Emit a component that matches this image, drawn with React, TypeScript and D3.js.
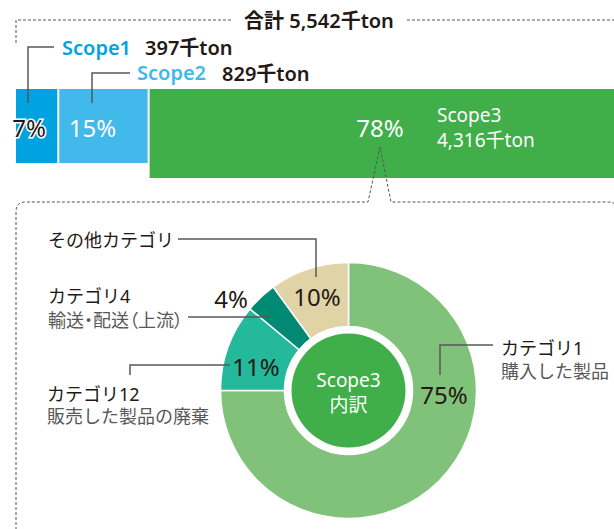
import React from 'react';
import * as d3 from 'd3';

// scope totals (千ton)
const scopeNames = ['Scope1', 'Scope2', 'Scope3'];
const scopeValues = [397, 829, 4316];
const scopeColors = ['#00a3e0', '#41b9eb', '#40ae49'];

// scope3 breakdown (%)
const catNames = ['カテゴリ1', 'カテゴリ12', 'カテゴリ4', 'その他カテゴリ'];
const catSubs = ['購入した製品', '販売した製品の廃棄', '輸送・配送（上流）', ''];
const catShares = [75, 11, 4, 10];
const catColors = ['#80c279', '#24b99a', '#008a73', '#e0d3a5'];

const W = 614;
const H = 529;
const FONT = '"Noto Sans", "Noto Sans CJK JP", sans-serif';
const DARK = '#231815';
const GREY = '#595757';

export default function App() {
  const total = d3.sum(scopeValues);
  const fmt = d3.format(',');
  const pct = d3.format('.0%');

  const x = d3.scaleLinear().domain([0, total]).range([16, 620]);
  const starts = scopeValues.map((v, i) => d3.sum(scopeValues.slice(0, i)));
  const barTop = 89;
  const barBottoms = [163, 163, 178];

  const cx = 348.5;
  const cy = 390.5;
  const arc = d3.arc<d3.PieArcDatum<number>>().innerRadius(64).outerRadius(128);
  const pie = d3.pie<number>().sort(null).value(d => d);
  const slices = pie(catShares);

  // label anchor spots, [x, baseline]
  const pctPos: [number, number][] = [[444, 404], [256, 376], [231, 308], [317, 306]];

  const txt = (props: any, s: string) => (
    <text fontFamily={FONT} {...props}>{s}</text>
  );

  return (
    <svg width={W} height={H} style={{ display: 'block', position: 'absolute', left: 0, top: 0 }}>
      <rect width={W} height={H} fill="#fff" />

      {/* total bracket */}
      <path d="M16,43 V20 H232 M407,20 H620" fill="none" stroke="#555" strokeWidth={1} strokeDasharray="3,2" />
      {txt({ x: 319, y: 28, textAnchor: 'middle', fontSize: 20, fontWeight: 600, fill: DARK }, `合計 ${fmt(total)}千ton`)}

      {/* bars */}
      {scopeValues.map((v, i) => (
        <rect key={i}
          x={x(starts[i])}
          y={barTop}
          width={x(starts[i] + v) - x(starts[i]) - 2}
          height={barBottoms[i] - barTop}
          fill={scopeColors[i]} />
      ))}

      {/* leaders for scope1/2 */}
      <path d="M54,47 H28 V103 M130,73 H92 V103" fill="none" stroke={GREY} strokeWidth={1.5} />

      {txt({ x: 62, y: 55, fontSize: 20, fontWeight: 600, fill: scopeColors[0] }, scopeNames[0])}
      {txt({ x: 145, y: 55, fontSize: 20, fontWeight: 600, fill: DARK }, `${fmt(scopeValues[0])}千ton`)}
      {txt({ x: 137, y: 80, fontSize: 20, fontWeight: 600, fill: scopeColors[1] }, scopeNames[1])}
      {txt({ x: 222, y: 81, fontSize: 20, fontWeight: 600, fill: DARK }, `${fmt(scopeValues[1])}千ton`)}

      {/* percentages in bars */}
      <text x={29} y={137} textAnchor="middle" fontFamily={FONT} fontSize={24} fill={DARK}
        stroke="#fff" strokeWidth={3} style={{ paintOrder: 'stroke' }}>{pct(scopeValues[0] / total)}</text>
      {txt({ x: 92.5, y: 137, textAnchor: 'middle', fontSize: 24, fill: '#fff' }, pct(scopeValues[1] / total))}
      {txt({ x: 380, y: 137, textAnchor: 'middle', fontSize: 24, fill: '#fff' }, pct(scopeValues[2] / total))}
      {txt({ x: 437, y: 122, fontSize: 19, fill: '#fff' }, scopeNames[2])}
      {txt({ x: 437, y: 147, fontSize: 19, fill: '#fff' }, `${fmt(scopeValues[2])}千ton`)}

      {/* callout box */}
      <path d="M16,540 V212 Q16,202 26,202 H368 L380,147 L391,202 H608 Q618,202 618,212 V540"
        fill="none" stroke="#555" strokeWidth={1} strokeDasharray="3,2" />

      {/* donut */}
      <g transform={`translate(${cx},${cy})`}>
        {slices.map((s, i) => (
          <path key={i} d={arc(s) || ''} fill={catColors[i]} stroke="#fff" strokeWidth={1.5} />
        ))}
        <circle r={57} fill="#40ae49" />
      </g>
      {txt({ x: cx, y: 387, textAnchor: 'middle', fontSize: 19, fill: '#fff' }, 'Scope3')}
      {txt({ x: cx, y: 412, textAnchor: 'middle', fontSize: 19, fill: '#fff' }, '内訳')}

      {/* category leaders */}
      <path d="M493,345 H440 V375 M230,365 H130 V375 M188,317 H270 M178,239 H316 V277"
        fill="none" stroke={GREY} strokeWidth={1.5} />

      {slices.map((s, i) => (
        <text key={i} x={pctPos[i][0]} y={pctPos[i][1]} textAnchor="middle"
          fontFamily={FONT} fontSize={24} fill={DARK}>{catShares[i]}%</text>
      ))}

      {txt({ x: 501, y: 355, fontSize: 18, fill: DARK }, catNames[0])}
      {txt({ x: 501, y: 378, fontSize: 18, fill: GREY }, catSubs[0])}
      {txt({ x: 47, y: 401, fontSize: 18, fill: DARK }, catNames[1])}
      {txt({ x: 47, y: 423, fontSize: 18, fill: GREY }, catSubs[1])}
      {txt({ x: 48, y: 303, fontSize: 18, fill: DARK }, catNames[2])}
      {txt({ x: 48, y: 327, fontSize: 18, fill: GREY, style: { fontFeatureSettings: '"palt"' } }, catSubs[2])}
      {txt({ x: 48, y: 247, fontSize: 18, fill: DARK }, catNames[3])}
    </svg>
  );
}
